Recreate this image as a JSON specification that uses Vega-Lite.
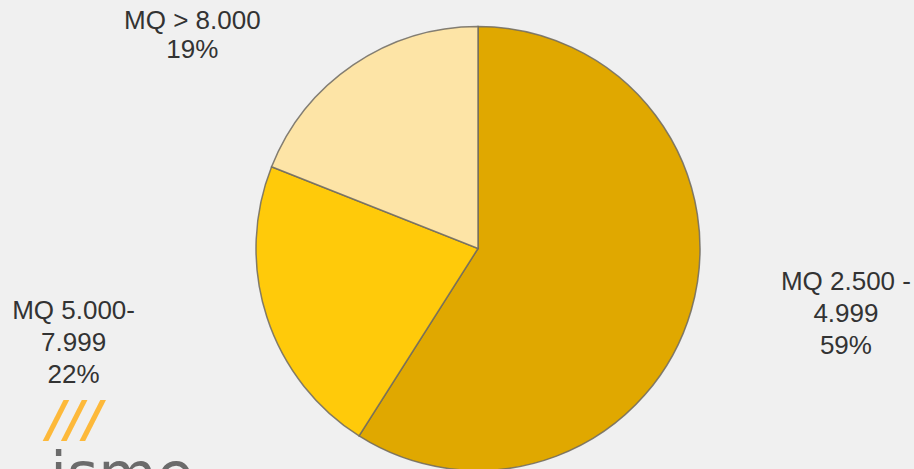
{
  "$schema": "https://vega.github.io/schema/vega-lite/v6.json",
  "autosize": "none",
  "width": 872,
  "height": 441,
  "padding": {"left": 42, "top": 28, "right": 0, "bottom": 0},
  "background": "#f0f0f0",
  "config": {"view": {"stroke": null}},
  "data": {
    "values": [
      {"range": "MQ 2.500 - 4.999", "share": 59, "order": 1, "label": "MQ 2.500 -\n4.999\n59%"},
      {"range": "MQ 5.000-7.999", "share": 22, "order": 2, "label": "MQ 5.000-\n7.999\n22%"},
      {"range": "MQ > 8.000", "share": 19, "order": 3, "label": "MQ > 8.000\n19%"}
    ]
  },
  "layer": [
    {
      "mark": {"type": "arc", "outerRadius": 222, "stroke": "#6e6a60", "strokeWidth": 1.5, "strokeOpacity": 0.85},
      "encoding": {
        "theta": {"field": "share", "type": "quantitative", "stack": true},
        "order": {"field": "order", "type": "ordinal"},
        "color": {
          "field": "range",
          "type": "nominal",
          "scale": {"domain": ["MQ 2.500 - 4.999", "MQ 5.000-7.999", "MQ > 8.000"], "range": ["#E0A800", "#FFCA0A", "#FDE4A6"]},
          "legend": null
        }
      }
    },
    {
      "mark": {"type": "text", "radius": 380, "dx": 3, "dy": -73, "font": "Liberation Sans", "fontSize": 26, "lineHeight": 32, "lineBreak": "\n", "color": "#333333", "align": "center", "baseline": "middle"},
      "encoding": {
        "theta": {"field": "share", "type": "quantitative", "stack": true},
        "order": {"field": "order", "type": "ordinal"},
        "text": {"condition": {"test": "datum.order == 1", "field": "label"}, "value": ""}
      }
    },
    {
      "mark": {"type": "text", "radius": 420, "dx": -5, "dy": -67, "font": "Liberation Sans", "fontSize": 26, "lineHeight": 32, "lineBreak": "\n", "color": "#333333", "align": "center", "baseline": "middle"},
      "encoding": {
        "theta": {"field": "share", "type": "quantitative", "stack": true},
        "order": {"field": "order", "type": "ordinal"},
        "text": {"condition": {"test": "datum.order == 2", "field": "label"}, "value": ""}
      }
    },
    {
      "mark": {"type": "text", "radius": 300, "dx": -117, "dy": 21, "font": "Liberation Sans", "fontSize": 26, "lineHeight": 29, "lineBreak": "\n", "color": "#333333", "align": "center", "baseline": "middle"},
      "encoding": {
        "theta": {"field": "share", "type": "quantitative", "stack": true},
        "order": {"field": "order", "type": "ordinal"},
        "text": {"condition": {"test": "datum.order == 3", "field": "label"}, "value": ""}
      }
    },
    {
      "data": {"values": [{"brand": "isme"}]},
      "mark": {"type": "text", "dx": -356, "dy": 246, "font": "DejaVu Sans", "fontSize": 60, "color": "#6b6b6b", "align": "center", "baseline": "alphabetic"},
      "encoding": {"text": {"field": "brand"}}
    },
    {
      "data": {"values": [{"mark": "///"}]},
      "mark": {"type": "text", "dx": -403, "dy": 172, "font": "DejaVu Sans", "fontSize": 50, "fontWeight": "bold", "fontStyle": "italic", "color": "#FDB93A", "align": "center", "baseline": "middle"},
      "encoding": {"text": {"field": "mark"}}
    }
  ]
}
